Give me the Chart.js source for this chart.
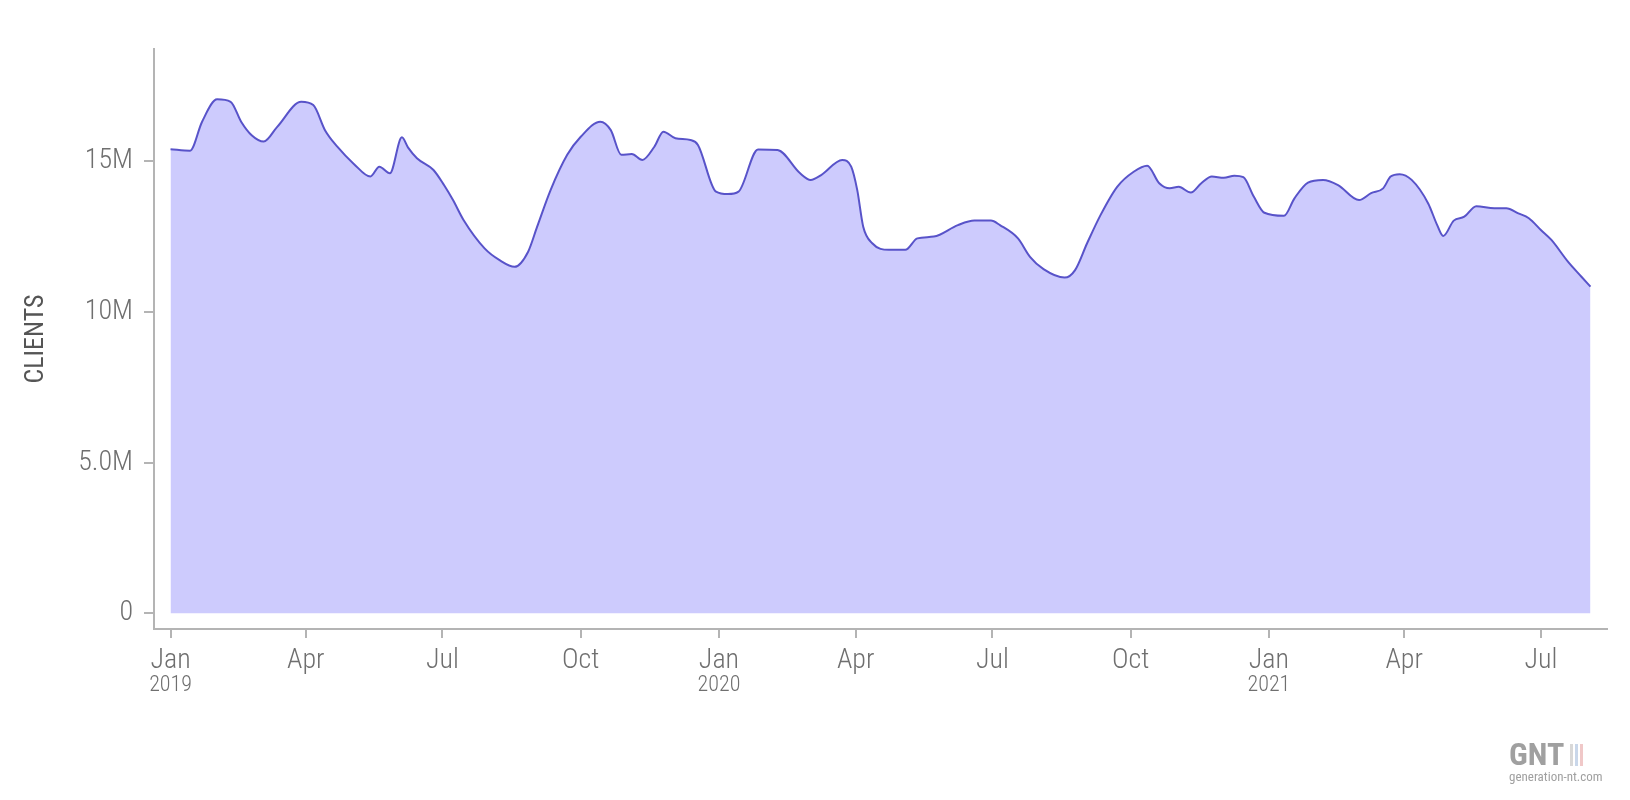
<!DOCTYPE html>
<html>
<head>
<meta charset="utf-8">
<script src="https://cdn.jsdelivr.net/npm/chart.js@4/dist/chart.umd.min.js"></script>
<style>
  html, body { margin: 0; padding: 0; background: #fff; }
  #wrap { position: relative; width: 1630px; height: 800px; }
  #watermark { position: absolute; left: 1509px; top: 738px; color: #a0a0a0;
    font-family: 'Roboto Condensed', 'Liberation Sans', sans-serif; line-height: 1; }
  #watermark .logo { font-size: 32px; font-weight: bold; letter-spacing: 0px; }
  #watermark .logo span { display: inline-block; width: 3px; height: 22px; margin-left: 2px; vertical-align: -1px; }
  #watermark .site { font-size: 13px; margin-top: 0px; }
</style>
</head>
<body>
<div id="wrap">
  <canvas id="chart-clients" width="1630" height="800"></canvas>
  <div id="watermark">
    <div class="logo">GNT<span style="background:#d8d8d8;margin-left:6px"></span><span style="background:#c9d7ea"></span><span style="background:#f0c8c8"></span></div>
    <div class="site">generation-nt.com</div>
  </div>
</div>
<script>
// Series (millions of clients)
const dates = [
  '2019-01-01', '2019-01-14', '2019-01-22', '2019-02-01', '2019-02-10', '2019-02-17', '2019-02-24',
  '2019-03-04', '2019-03-13', '2019-03-29', '2019-04-06', '2019-04-14', '2019-04-22', '2019-05-03',
  '2019-05-14', '2019-05-20', '2019-05-27', '2019-06-04', '2019-06-08', '2019-06-14', '2019-06-25',
  '2019-07-02', '2019-07-08', '2019-07-15', '2019-07-29', '2019-08-08', '2019-08-18', '2019-08-27',
  '2019-09-02', '2019-09-11', '2019-09-22', '2019-10-01', '2019-10-14', '2019-10-21', '2019-10-28',
  '2019-11-04', '2019-11-11', '2019-11-19', '2019-11-25', '2019-12-03', '2019-12-13', '2019-12-18',
  '2019-12-30', '2020-01-07', '2020-01-14', '2020-01-27', '2020-02-09', '2020-02-24', '2020-03-02',
  '2020-03-09', '2020-03-23', '2020-03-29', '2020-04-02', '2020-04-06', '2020-04-12', '2020-04-23',
  '2020-05-04', '2020-05-12', '2020-05-23', '2020-06-08', '2020-06-19', '2020-06-30', '2020-07-06',
  '2020-07-18', '2020-07-26', '2020-08-04', '2020-08-18', '2020-08-25', '2020-09-02', '2020-09-11',
  '2020-09-22', '2020-10-03', '2020-10-12', '2020-10-20', '2020-10-27', '2020-11-02', '2020-11-10',
  '2020-11-17', '2020-11-24', '2020-12-02', '2020-12-09', '2020-12-15', '2020-12-22', '2020-12-29',
  '2021-01-11', '2021-01-18', '2021-01-27', '2021-02-06', '2021-02-16', '2021-03-02', '2021-03-10',
  '2021-03-18', '2021-03-23', '2021-03-29', '2021-04-06', '2021-04-17', '2021-04-23', '2021-04-27',
  '2021-05-04', '2021-05-11', '2021-05-19', '2021-05-31', '2021-06-08', '2021-06-16', '2021-06-23',
  '2021-07-01', '2021-07-08', '2021-07-19', '2021-07-28', '2021-08-03'
];
const clients = [
  15.39, 15.34, 16.30, 17.04, 16.96, 16.30, 15.85,
  15.64, 16.13, 16.96, 16.85, 16.00, 15.47, 14.90,
  14.48, 14.81, 14.59, 15.78, 15.45, 15.09, 14.70,
  14.20, 13.70, 13.04, 12.10, 11.71, 11.49, 11.99,
  12.82, 14.04, 15.20, 15.80, 16.30, 16.02, 15.20,
  15.23, 15.03, 15.47, 15.97, 15.75, 15.69, 15.53,
  13.98, 13.90, 13.98, 15.38, 15.36, 14.59, 14.37,
  14.53, 15.03, 14.81, 14.04, 12.82, 12.27, 12.05,
  12.05, 12.43, 12.49, 12.87, 13.02, 13.02, 12.87,
  12.43, 11.82, 11.41, 11.13, 11.38, 12.27, 13.21,
  14.14, 14.64, 14.84, 14.26, 14.09, 14.14, 13.95,
  14.26, 14.48, 14.44, 14.51, 14.46, 13.81, 13.28,
  13.18, 13.76, 14.28, 14.37, 14.20, 13.70, 13.93,
  14.09, 14.48, 14.56, 14.37, 13.59, 12.87, 12.51,
  13.02, 13.15, 13.50, 13.43, 13.43, 13.26, 13.10,
  12.71, 12.38, 11.66, 11.16, 10.83
];

// Axis ticks
const tickDates = [
  '2019-01-01', '2019-04-01', '2019-07-01', '2019-10-01',
  '2020-01-01', '2020-04-01', '2020-07-01', '2020-10-01',
  '2021-01-01', '2021-04-01', '2021-07-01'
];
const tickMonths = ['Jan', 'Apr', 'Jul', 'Oct', 'Jan', 'Apr', 'Jul', 'Oct', 'Jan', 'Apr', 'Jul'];
const yearDates = ['2019-01-01', '2020-01-01', '2021-01-01'];
const yearLabels = ['2019', '2020', '2021'];
const yTicks = [0, 5, 10, 15];
const yLabels = ['0', '5.0M', '10M', '15M'];

// axis extents (axes sit slightly off the data, like the original)
const xStart = '2018-12-21';
const xEnd = '2021-08-14';
const yMin = -0.52;
const yMax = 18.71;

const FONT = "'Roboto Condensed', 'Liberation Sans Narrow', 'Liberation Sans', sans-serif";
const AXIS_GREY = '#b4b4b4';
const LABEL_GREY = '#6f6f6f';

// days since 2019-01-01
const toDay = s => (Date.parse(s + 'T00:00:00Z') - Date.parse('2019-01-01T00:00:00Z')) / 864e5;

const points = dates.map((d, i) => ({ x: toDay(d), y: clients[i] }));
const tickDays = tickDates.map(toDay);
const yearDays = yearDates.map(toDay);

new Chart(document.getElementById('chart-clients'), {
  type: 'line',
  data: {
    datasets: [{
      label: 'Clients',
      data: points,
      borderColor: '#5853c9',
      borderWidth: 2,
      backgroundColor: '#cdcbfd',
      fill: 'origin',
      pointRadius: 0,
      cubicInterpolationMode: 'monotone'
    }]
  },
  options: {
    responsive: false,
    animation: false,
    devicePixelRatio: 1,
    layout: {
      padding: { top: 49, right: 23, bottom: 96, left: 0 }
    },
    plugins: {
      legend: { display: false },
      tooltip: { enabled: false }
    },
    scales: {
      x: {
        type: 'linear',
        position: 'bottom',
        min: toDay(xStart),
        max: toDay(xEnd),
        border: { color: AXIS_GREY, width: 2 },
        grid: {
          drawOnChartArea: false,
          tickLength: 9,
          color: AXIS_GREY,
          lineWidth: 2
        },
        ticks: {
          autoSkip: false,
          maxRotation: 0,
          padding: 9,
          color: LABEL_GREY,
          font: { family: FONT, size: 28, weight: '300', lineHeight: 1 },
          callback: value => tickMonths[tickDays.indexOf(value)]
        },
        afterBuildTicks: scale => { scale.ticks = tickDays.map(v => ({ value: v })); },
        afterFit: scale => { scale.height = 45; }
      },
      years: {
        type: 'linear',
        position: 'bottom',
        min: toDay(xStart),
        max: toDay(xEnd),
        border: { display: false },
        grid: { display: false },
        ticks: {
          autoSkip: false,
          maxRotation: 0,
          padding: -8,
          color: LABEL_GREY,
          font: { family: FONT, size: 22, weight: '300', lineHeight: 1 },
          callback: value => yearLabels[yearDays.indexOf(value)]
        },
        afterBuildTicks: scale => { scale.ticks = yearDays.map(v => ({ value: v })); },
        afterFit: scale => { scale.height = 30; }
      },
      y: {
        min: yMin,
        max: yMax,
        border: { color: AXIS_GREY, width: 2 },
        grid: {
          drawOnChartArea: false,
          tickLength: 10,
          color: AXIS_GREY,
          lineWidth: 2
        },
        ticks: {
          padding: 11,
          color: LABEL_GREY,
          font: { family: FONT, size: 28, weight: '300' },
          callback: value => yLabels[yTicks.indexOf(value)]
        },
        title: {
          display: true,
          text: 'CLIENTS',
          color: '#555',
          padding: { top: 21, bottom: 0 },
          font: { family: FONT, size: 26 }
        },
        afterBuildTicks: scale => { scale.ticks = yTicks.map(v => ({ value: v })); },
        afterFit: scale => { scale.width = 154; }
      }
    }
  }
});
</script>
</body>
</html>
